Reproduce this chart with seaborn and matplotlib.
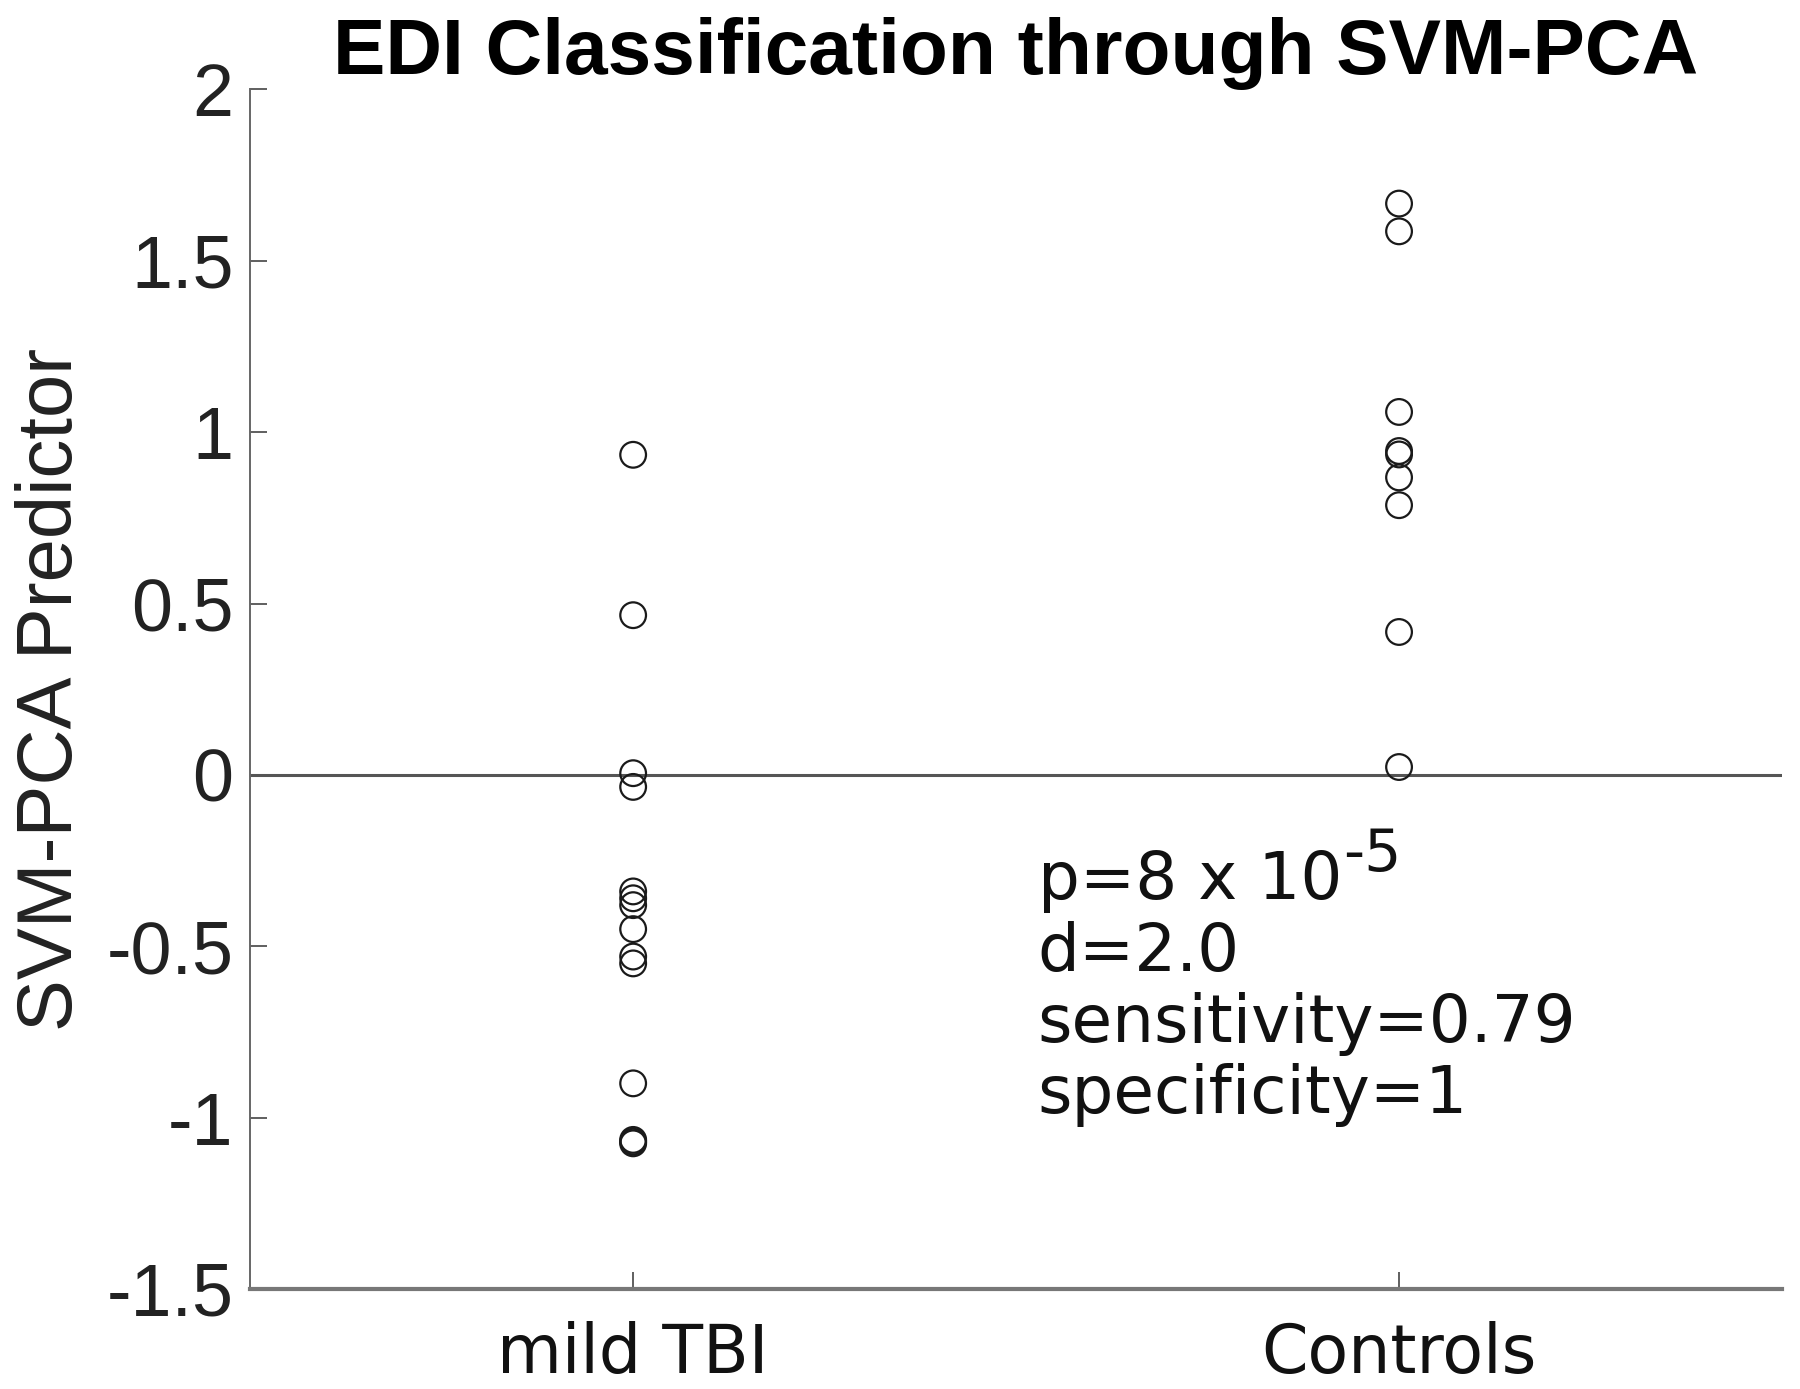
import numpy as np
import pandas as pd
import matplotlib
matplotlib.use("Agg")
import matplotlib.pyplot as plt
import seaborn as sns

# ---- data ----
groups = ["mild TBI", "Controls"]
mild_tbi = [0.934, 0.466, 0.005, -0.035, -0.34, -0.36, -0.38, -0.45, -0.53,
            -0.55, -0.90, -1.065, -1.07, -1.075]
controls = [1.667, 1.586, 1.059, 0.945, 0.935, 0.868, 0.787, 0.417, 0.023]
yticks = [-1.5, -1, -0.5, 0, 0.5, 1, 1.5, 2]
ytick_labels = ["-1.5", "-1", "-0.5", "0", "0.5", "1", "1.5", "2"]
title = "EDI Classification through SVM-PCA"
ylabel = "SVM-PCA Predictor"
p_text = "p=8 x 10"
p_exponent = "-5"
stats_lines = ["d=2.0", "sensitivity=0.79", "specificity=1"]

df = pd.DataFrame({
    "group": [groups[0]] * len(mild_tbi) + [groups[1]] * len(controls),
    "value": mild_tbi + controls,
})

sns.set_theme(style="white")
plt.rcParams["font.family"] = ["DejaVu Sans"]

fig = plt.figure(figsize=(18, 13.89), dpi=100)
ax = fig.add_axes([0.139, 0.072, 0.851, 0.8636])

ax.axhline(0, color="#555555", lw=2.2, zorder=1)
sns.stripplot(data=df, x="group", y="value", order=groups, jitter=False,
              size=18.5, marker="o", color="black", edgecolor="black",
              linewidth=1.6, ax=ax, zorder=3)
for c in ax.collections:
    c.set_facecolor("none")
    c.set_edgecolor("#1a1a1a")

ax.set_xlim(-0.5, 1.5)
ax.set_ylim(-1.5, 2)
ax.set_yticks(yticks)
ax.set_yticklabels(ytick_labels, fontfamily="Liberation Sans", fontsize=53,
                   color="#222222")
ax.set_xticks([0, 1])
ax.set_xticklabels(groups, fontfamily="DejaVu Sans", fontsize=48,
                   color="#111111")
ax.tick_params(axis="both", direction="in", length=12, width=1.2,
               color="#444444", left=True, bottom=True)
ax.tick_params(axis="y", pad=12)
ax.tick_params(axis="x", pad=23)
ax.set_xlabel("")
ax.set_ylabel(ylabel, fontfamily="Liberation Sans", fontsize=56,
              color="#222222")
ax.yaxis.set_label_coords(-0.106, 0.5)

for s in ["top", "right"]:
    ax.spines[s].set_visible(False)
ax.spines["left"].set_color("#666666")
ax.spines["left"].set_linewidth(1.4)
ax.spines["bottom"].set_color("#777777")
ax.spines["bottom"].set_linewidth(3)

ax.set_title(title, fontfamily="Liberation Sans", fontweight="bold",
             fontsize=56.5, pad=11, color="black")

y0, dy = 0.325, 0.0595
t1 = ax.text(0.514, y0, p_text, transform=ax.transAxes, fontsize=47.5,
             va="baseline", ha="left", color="#111111")
ax.annotate(p_exponent, xy=(1, 1), xycoords=t1, xytext=(1, 17),
            textcoords="offset points", fontsize=42, va="top", ha="left",
            color="#111111")
for i, line in enumerate(stats_lines, start=1):
    ax.text(0.514, y0 - i * dy, line, transform=ax.transAxes, fontsize=47.5,
            va="baseline", ha="left", color="#111111")

fig.savefig("out.png", dpi=100)
